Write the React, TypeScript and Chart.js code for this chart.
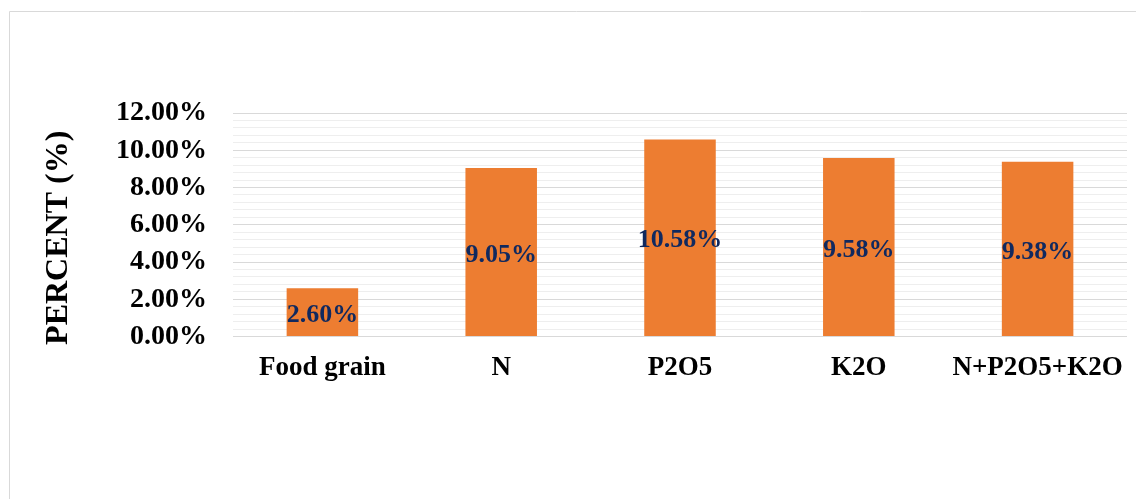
import React, { useEffect, useRef } from 'react';
import { Chart, registerables } from 'chart.js';

Chart.register(...registerables);

const categories = ['Food grain', 'N', 'P2O5', 'K2O', 'N+P2O5+K2O'];
const percentValues = [2.6, 9.05, 10.58, 9.58, 9.38];
const yAxisMin = 0;
const yAxisMax = 12;
const yMinorStep = 0.4;
const yMajorStep = 2;
const yAxisTitle = 'PERCENT (%)';

const FONT = '"Liberation Serif", "Times New Roman", serif';

const isMajor = (v: number) => Math.abs(v / yMajorStep - Math.round(v / yMajorStep)) < 1e-6;

export default function App() {
  const ref = useRef<HTMLCanvasElement>(null);

  useEffect(() => {
    document.documentElement.style.overflow = 'hidden';
    document.body.style.overflow = 'hidden';
    const canvas = ref.current;
    if (!canvas) return;

    const framePlugin = {
      id: 'frame',
      beforeDraw(chart: any) {
        const ctx = chart.ctx;
        ctx.save();
        ctx.strokeStyle = '#d9d9d9';
        ctx.lineWidth = 1;
        ctx.beginPath();
        ctx.moveTo(1.5, chart.height);
        ctx.lineTo(1.5, 3.5);
        ctx.lineTo(chart.width, 3.5);
        ctx.stroke();
        ctx.restore();
      },
    };

    const axisTitlePlugin = {
      id: 'axisTitle',
      afterDraw(chart: any) {
        const ctx = chart.ctx;
        const area = chart.chartArea;
        ctx.save();
        ctx.translate(50.5, (area.top + area.bottom) / 2 + 13);
        ctx.rotate(-Math.PI / 2);
        ctx.font = `bold 32px ${FONT}`;
        ctx.fillStyle = '#000';
        ctx.textAlign = 'center';
        ctx.textBaseline = 'middle';
        ctx.fillText(yAxisTitle, 0, 0);
        ctx.restore();
      },
    };

    const labelPlugin = {
      id: 'barLabels',
      afterDatasetsDraw(chart: any) {
        const ctx = chart.ctx;
        const meta = chart.getDatasetMeta(0);
        ctx.save();
        ctx.font = `bold 26px ${FONT}`;
        ctx.fillStyle = '#10295f';
        ctx.textAlign = 'center';
        ctx.textBaseline = 'middle';
        meta.data.forEach((el: any, i: number) => {
          const { x, y, base } = el.getProps(['x', 'y', 'base'], true);
          ctx.fillText(percentValues[i].toFixed(2) + '%', x, (y + base) / 2 + 3);
        });
        ctx.restore();
      },
    };

    const chart = new Chart(canvas, {
      type: 'bar',
      data: {
        labels: categories,
        datasets: [
          {
            data: percentValues,
            backgroundColor: '#ED7D31',
            barPercentage: 0.4,
            categoryPercentage: 1,
          },
        ],
      },
      options: {
        animation: false,
        responsive: true,
        maintainAspectRatio: false,
        layout: { padding: { left: 31, top: 105, right: 17, bottom: 108 } },
        plugins: {
          legend: { display: false },
          tooltip: { enabled: false },
        },
        scales: {
          x: {
            grid: { display: false },
            border: { display: false },
            ticks: {
              color: '#000',
              font: { family: FONT, size: 27, weight: 'bold' },
              padding: 7,
              maxRotation: 0,
              autoSkip: false,
            },
          },
          y: {
            min: yAxisMin,
            max: yAxisMax,
            border: { display: false },
            grid: {
              drawTicks: false,
              color: (c: any) => (isMajor(c.tick.value) ? '#d9d9d9' : '#eeeeee'),
            },
            ticks: {
              stepSize: yMinorStep,
              autoSkip: false,
              padding: 26,
              color: '#000',
              font: { family: FONT, size: 28, weight: 'bold' },
              callback: (v: any) => (isMajor(Number(v)) ? Number(v).toFixed(2) + '%' : ''),
            },
            title: { display: false },
            afterFit: (s: any) => {
              s.width = 225 - 31;
            },
          },
        },
      },
      plugins: [framePlugin, labelPlugin, axisTitlePlugin],
    });

    return () => chart.destroy();
  }, []);

  return (
    <div style={{ position: 'relative', width: 1136, height: 491 }}>
      <canvas ref={ref} />
    </div>
  );
}
